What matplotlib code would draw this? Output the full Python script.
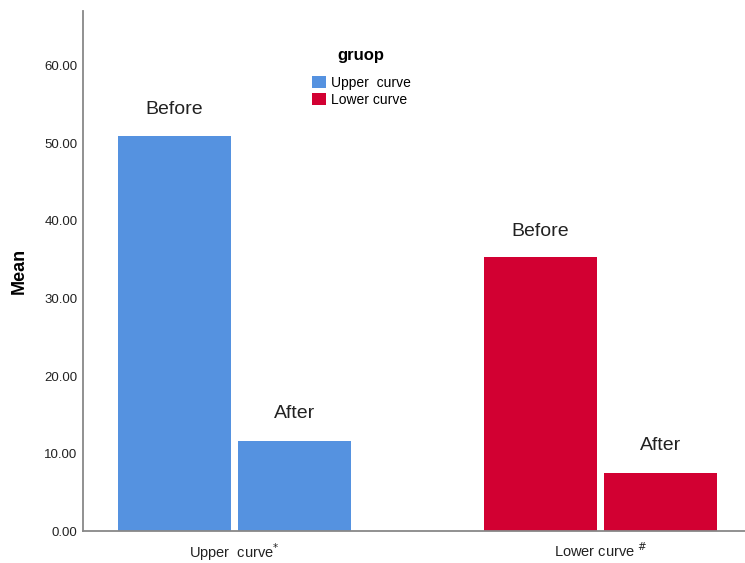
import numpy as np
import matplotlib
matplotlib.use('Agg')
import matplotlib.pyplot as plt
from matplotlib.patches import Patch

plt.rcParams['font.family'] = ['Liberation Sans', 'DejaVu Sans']

groups = ['Upper  curve$^{*}$', 'Lower curve $^{\\#}$']
legend_names = ['Upper  curve', 'Lower curve']
before = [50.9, 35.3]
after = [11.6, 7.5]
colors = ['#5592E0', '#D20032']

fig = plt.figure(figsize=(7.45, 5.63), dpi=100)
ax = fig.add_axes([0.1114, 0.056, 0.8886, 0.924])

x = np.arange(len(groups))
w = 0.311
off = 0.164
for i in range(len(groups)):
    ax.bar(x[i] - off, before[i], w, color=colors[i])
    ax.bar(x[i] + off, after[i], w, color=colors[i])
    ax.annotate('Before', (x[i] - off, before[i]), xytext=(0, 19), textcoords='offset points',
                ha='center', va='center', fontsize=14, color='#222222')
    ax.annotate('After', (x[i] + off, after[i]), xytext=(0, 20), textcoords='offset points',
                ha='center', va='center', fontsize=14, color='#222222')

ax.set_xlim(-0.414, 1.395)
ax.set_ylim(0, 67)
ax.set_yticks(np.arange(0, 61, 10))
ax.set_yticklabels(['%.2f' % v for v in np.arange(0, 61, 10)], fontsize=9.5, color='#222222')
ax.set_xticks(x)
ax.set_xticklabels(groups, fontsize=10.5, color='#222222')
ax.tick_params(axis='y', length=0, pad=4)
ax.tick_params(axis='x', length=0, pad=7)
ax.set_ylabel('Mean', fontsize=13, fontweight='bold', labelpad=12)

for s in ['top', 'right']:
    ax.spines[s].set_visible(False)
for s in ['left', 'bottom']:
    ax.spines[s].set_color('#888888')
    ax.spines[s].set_linewidth(1.3)

handles = [Patch(facecolor=c) for c in colors]
leg = ax.legend(handles, legend_names, title='gruop', loc='upper left',
                bbox_to_anchor=(0.337, 0.94), frameon=False, fontsize=10,
                handlelength=1.0, handleheight=1.0, handletextpad=0.4,
                labelspacing=0.25, borderaxespad=0)
leg.get_title().set_fontweight('bold')
leg.get_title().set_fontsize(12)
leg._legend_box.sep = 9

fig.savefig('out.png', dpi=100, facecolor='white')
